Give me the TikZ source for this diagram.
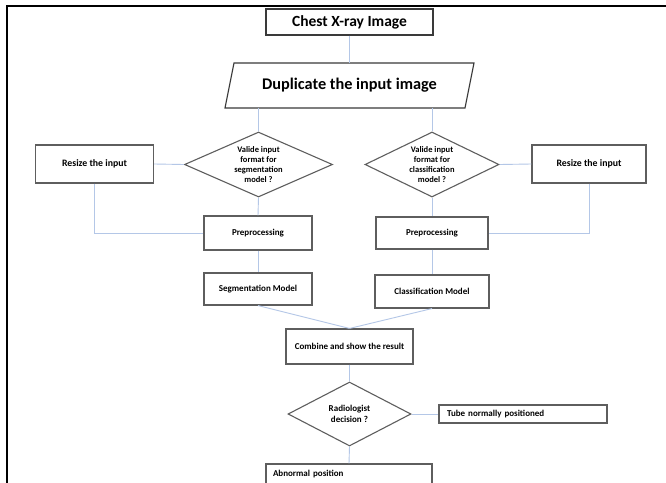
\documentclass[tikz,border=0pt]{standalone}
\usepackage{fontspec}
\setmainfont{Carlito}
\usetikzlibrary{shapes.geometric,calc}
\definecolor{boxgray}{HTML}{5E5E5E}
\definecolor{boxdark}{HTML}{3A3A3A}
\definecolor{linkblue}{HTML}{B4C7E7}
\begin{document}
\begin{tikzpicture}[x=1pt,y=-1pt,
  box/.style={draw=boxgray, line width=1.1pt, rectangle, inner sep=0pt, align=center,
    font=\bfseries\fontsize{9}{10.5}\selectfont},
  dia/.style={draw=boxgray, line width=1.1pt, diamond, inner sep=0pt, aspect=2.2, align=center,
    font=\bfseries\fontsize{8.5}{10.3}\selectfont},
  leftbox/.style={box, align=left, text width=#1},
  conn/.style={draw=linkblue, line width=0.9pt}]
\useasboundingbox (0,0) rectangle (666,482);
\clip (0,0) rectangle (666,482);
\fill[white] (0,0) rectangle (666,482);
% frame
\draw[line width=2pt, black] (6.5,483) -- (6.5,5.5) -- (667,5.5);

% nodes
\node[box, draw=boxdark, minimum width=167pt, minimum height=26pt,
  font=\bfseries\fontsize{15.5}{18}\selectfont] (chest) at (349.5,22) {Chest X-ray Image};
\node[inner sep=0pt, minimum width=238pt, minimum height=45pt,
  font=\bfseries\fontsize{16.3}{19}\selectfont] (dup) at (349.5,85.5) {Duplicate the input image};
\draw[boxdark, line width=1.1pt] (234,63) -- (474,63) -- (465,108) -- (225,108) -- cycle;

\node[dia, minimum width=148pt, minimum height=65pt] (dL) at (258.5,164.5)
  {Valide input\\format for\\segmentation\\model ?};
\node[dia, minimum width=134pt, minimum height=65pt] (dR) at (432,164.5)
  {Valide input\\format for\\classification\\model ?};

\node[box, minimum width=118pt, minimum height=38pt, font=\bfseries\fontsize{9.8}{11}\selectfont] (rL) at (94.5,164) {Resize the input};
\node[box, minimum width=114pt, minimum height=38pt, font=\bfseries\fontsize{9.8}{11}\selectfont] (rR) at (589,164) {Resize the input};

\node[box, minimum width=108pt, minimum height=34pt] (pL) at (258,233) {Preprocessing};
\node[box, minimum width=112pt, minimum height=32pt] (pR) at (432,233) {Preprocessing};

\node[box, minimum width=108pt, minimum height=32pt] (sL) at (258,289) {Segmentation Model};
\node[box, minimum width=114pt, minimum height=33pt] (cR) at (432,291.5) {Classification Model};

\node[box, minimum width=127pt, minimum height=35pt] (cb) at (349.5,346.5) {Combine and show the result};

\node[dia, minimum width=123pt, minimum height=64pt, font=\bfseries\fontsize{9}{10.5}\selectfont] (rd) at (349.5,414) {Radiologist\\decision ?};

\node[leftbox=152pt, inner xsep=8pt, minimum height=18pt] (tb) at (523,414) {Tube normally positioned};
\node[leftbox=152pt, inner xsep=7pt, minimum height=20pt] (ab) at (349,474) {Abnormal position};

% connectors
\draw[conn] (chest.south) -- (dup.north);
\draw[conn] (dup.south -| dL.north) -- (dL.north);
\draw[conn] (dup.south -| dR.north) -- (dR.north);
\draw[conn] (rL.east) -- (dL.west);
\draw[conn] (dR.east) -- (rR.west);
\draw[conn] (dL.south) -- (pL.north);
\draw[conn] (dR.south) -- (pR.north);
\draw[conn] (rL.south) |- (pL.west);
\draw[conn] (rR.south) |- (pR.east);
\draw[conn] (pL.south) -- (sL.north);
\draw[conn] (pR.south) -- (cR.north);
\draw[conn] (sL.south) -- (cb.north);
\draw[conn] (cR.south) -- (cb.north);
\draw[conn] (cb.south) -- (rd.north);
\draw[conn] (rd.east) -- (tb.west);
\draw[conn] (rd.south) -- (ab.north);
\end{tikzpicture}
\end{document}
